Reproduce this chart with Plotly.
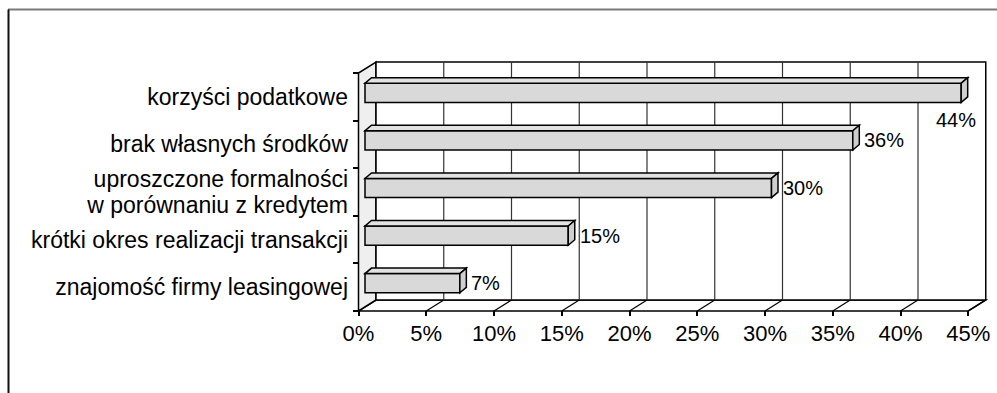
import plotly.graph_objects as go

# Survey answers, listed top to bottom as they appear on the chart
categories = [
    "korzyści podatkowe",
    "brak własnych środków",
    "uproszczone formalności<br>w porównaniu z kredytem",
    "krótki okres realizacji transakcji",
    "znajomość firmy leasingowej",
]
shares = [44, 36, 30, 15, 7]
x_ticks = [0, 5, 10, 15, 20, 25, 30, 35, 40, 45]
x_tick_labels = ["0%", "5%", "10%", "15%", "20%", "25%", "30%", "35%", "40%", "45%"]

FONT = "Liberation Sans, Arial, Helvetica, sans-serif"

# ---- canvas / plot-area geometry (pixels) ----
W, H = 997, 393
PLOT_L, PLOT_R, PLOT_T, PLOT_B = 353, 993, 55, 316
X0_PX = 358.5        # where 0 % sits on the front edge of the floor
PX_PER_PCT = 13.55
Y0_PX = 311          # front edge of the floor
PX_PER_CAT = 47.6

x_range = [(PLOT_L - X0_PX) / PX_PER_PCT, (PLOT_R - X0_PX) / PX_PER_PCT]
y_range = [(Y0_PX - PLOT_B) / PX_PER_CAT, (Y0_PX - PLOT_T) / PX_PER_CAT]

# ---- pseudo-3D depth offsets, in axis units ----
WALL_DX, WALL_DY = 17.5 / PX_PER_PCT, 11.0 / PX_PER_CAT
BAR_SHIFT_X, BAR_SHIFT_Y = 6.5 / PX_PER_PCT, 4.0 / PX_PER_CAT
BAR_DX, BAR_DY = 6.5 / PX_PER_PCT, 5.5 / PX_PER_CAT
BAR_HALF = 9.6 / PX_PER_CAT
LINE_STEP = 26.0 / PX_PER_CAT   # spacing of wrapped category-label lines

n = len(categories)
centers = [n - 1 - i + 0.5 for i in range(n)]
x_max = x_ticks[-1]

# category labels: one tick per text line so wrapped labels keep tight spacing
label_vals, label_text = [], []
for cat, c in zip(categories, centers):
    lines = cat.split("<br>")
    k = len(lines)
    for j, line in enumerate(lines):
        label_vals.append(c + ((k - 1) / 2 - j) * LINE_STEP)
        label_text.append(line)

EDGE = "black"
BAR_FILL = "#d9d9d9"
BAR_TOP = "#e2e2e2"
BAR_END = "#cfcfcf"


def poly(points):
    return "M " + " L ".join(f"{x},{y}" for x, y in points) + " Z"


shapes = []
# floor
shapes.append(dict(type="path", layer="below", xref="x", yref="y",
                   path=poly([(0, 0), (x_max, 0), (x_max + WALL_DX, WALL_DY), (WALL_DX, WALL_DY)]),
                   fillcolor="white", line=dict(color=EDGE, width=1.5)))
# left side wall
shapes.append(dict(type="path", layer="below", xref="x", yref="y",
                   path=poly([(0, 0), (0, n), (WALL_DX, n + WALL_DY), (WALL_DX, WALL_DY)]),
                   fillcolor="#efefef", line=dict(color=EDGE, width=1.5)))
# back wall
shapes.append(dict(type="rect", layer="below", xref="x", yref="y",
                   x0=WALL_DX, y0=WALL_DY, x1=x_max + WALL_DX, y1=n + WALL_DY,
                   fillcolor="white", line=dict(color=EDGE, width=1.5)))
# gridlines on back wall and floor
for t in x_ticks[1:]:
    if t < x_max:
        shapes.append(dict(type="line", layer="below", xref="x", yref="y",
                           x0=t + WALL_DX, y0=WALL_DY, x1=t + WALL_DX, y1=n + WALL_DY,
                           line=dict(color="#333333", width=1.2)))
    shapes.append(dict(type="line", layer="below", xref="x", yref="y",
                       x0=t, y0=0, x1=t + WALL_DX, y1=WALL_DY,
                       line=dict(color=EDGE, width=1.2)))

# top and end faces of each bar
for v, c in zip(shares, centers):
    yc = c + BAR_SHIFT_Y
    x_a, x_b = BAR_SHIFT_X, BAR_SHIFT_X + v
    y_lo, y_hi = yc - BAR_HALF, yc + BAR_HALF
    shapes.append(dict(type="path", layer="above", xref="x", yref="y",
                       path=poly([(x_a, y_hi), (x_b, y_hi), (x_b + BAR_DX, y_hi + BAR_DY),
                                  (x_a + BAR_DX, y_hi + BAR_DY)]),
                       fillcolor=BAR_TOP, line=dict(color=EDGE, width=1.5)))
    shapes.append(dict(type="path", layer="above", xref="x", yref="y",
                       path=poly([(x_b, y_lo), (x_b + BAR_DX, y_lo + BAR_DY),
                                  (x_b + BAR_DX, y_hi + BAR_DY), (x_b, y_hi)]),
                       fillcolor=BAR_END, line=dict(color=EDGE, width=1.5)))


# outer frame (top and left edges)
def px_to_paper_x(px):
    return (px - PLOT_L) / (PLOT_R - PLOT_L)


def px_to_paper_y(py):
    return (PLOT_B - py) / (PLOT_B - PLOT_T)


shapes.append(dict(type="line", xref="paper", yref="paper",
                   x0=px_to_paper_x(8), y0=px_to_paper_y(9.5), x1=px_to_paper_x(997), y1=px_to_paper_y(9.5),
                   line=dict(color="#7a7a7a", width=2)))
shapes.append(dict(type="line", xref="paper", yref="paper",
                   x0=px_to_paper_x(8.5), y0=px_to_paper_y(9.5), x1=px_to_paper_x(8.5), y1=px_to_paper_y(400),
                   line=dict(color="#111111", width=2)))

# value labels
annotations = []
LABEL_W_PCT = 41 / PX_PER_PCT
GAP_PCT = 6 / PX_PER_PCT
for v, c in zip(shares, centers):
    yc = c + BAR_SHIFT_Y
    end_x = BAR_SHIFT_X + v + BAR_DX
    if end_x + GAP_PCT + LABEL_W_PCT > x_max + WALL_DX:
        # not enough room beside the bar: put the label under its end
        annotations.append(dict(x=BAR_SHIFT_X + v, y=yc - BAR_HALF, xref="x", yref="y",
                                text=f"{v}%", showarrow=False, xanchor="center", yanchor="top",
                                xshift=-5, yshift=-5,
                                font=dict(family=FONT, size=20, color="black")))
    else:
        annotations.append(dict(x=end_x, y=yc, xref="x", yref="y",
                                text=f"{v}%", showarrow=False, xanchor="left", yanchor="middle",
                                xshift=3,
                                font=dict(family=FONT, size=20, color="black")))

fig = go.Figure()
fig.add_trace(go.Bar(
    orientation="h",
    y=[c + BAR_SHIFT_Y for c in centers],
    x=shares,
    base=BAR_SHIFT_X,
    width=2 * BAR_HALF,
    marker=dict(color=BAR_FILL, line=dict(color=EDGE, width=1.5)),
    hoverinfo="skip",
))

fig.update_layout(
    width=W, height=H,
    margin=dict(l=PLOT_L, r=W - PLOT_R, t=PLOT_T, b=H - PLOT_B, pad=0),
    paper_bgcolor="white", plot_bgcolor="white",
    showlegend=False,
    shapes=shapes,
    annotations=annotations,
    font=dict(family=FONT, color="black"),
    xaxis=dict(range=x_range, tickmode="array", tickvals=x_ticks, ticktext=x_tick_labels,
               ticks="inside", ticklen=5, tickwidth=1.5, tickcolor=EDGE,
               showgrid=False, zeroline=False, showline=False, ticklabelstandoff=2,
               tickfont=dict(family=FONT, size=22, color="black"), fixedrange=True),
    yaxis=dict(range=y_range, tickmode="array", tickvals=label_vals, ticktext=label_text,
               ticks="", showgrid=False, zeroline=False, showline=False, ticklabelstandoff=4,
               minor=dict(tickmode="array", tickvals=list(range(n + 1)), ticks="inside",
                          ticklen=6, tickwidth=1.5, tickcolor=EDGE, showgrid=False),
               tickfont=dict(family=FONT, size=23, color="black"), fixedrange=True),
)

fig.write_html("out.html", config={"displayModeBar": False})
